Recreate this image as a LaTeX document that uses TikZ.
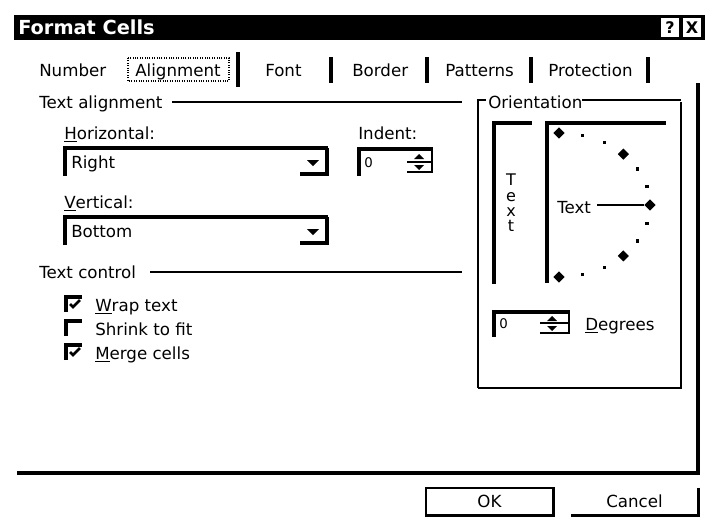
\documentclass[tikz,border=0pt]{standalone}
\usepackage{fontspec}
\setmainfont{DejaVu Sans}
\usetikzlibrary{positioning,shapes.geometric}

\begin{document}
\begin{tikzpicture}[x=0.75pt, y=-0.75pt,
    txt/.style={anchor=base west, inner sep=0pt, font=\fontsize{12.5}{15}\selectfont},
    btn/.style={inner sep=0pt, minimum width=95.25pt, minimum height=20.25pt, font=\fontsize{12.5}{15}\selectfont},
    hair/.style={line width=0.8pt},
    heavy/.style={line width=2.3pt},
    tabbar/.style={line width=3pt},
    bigdot/.style={diamond, fill=black, inner sep=0pt, minimum size=8.5pt},
    smalldot/.style={rectangle, fill=black, inner sep=0pt, minimum size=2.4pt}
]
\useasboundingbox (0,0) rectangle (705,522);

% Title bar
\fill (14,15) rectangle (705,40);
\node[txt, font=\fontsize{14.5}{17}\selectfont\bfseries, text=white] (title) at (18,34) {Format Cells};
\node[fill=white, inner sep=0pt, minimum width=13.5pt, minimum height=14pt, font=\fontsize{12}{14}\selectfont\bfseries] (help) at (670,27.5) {?};
\node[fill=white, inner sep=0pt, minimum width=13.5pt, minimum height=14pt, font=\fontsize{12}{14}\selectfont\bfseries] (close) at (692,27.5) {X};

% Tabs
\foreach \x/\t/\n in {39/Number/tnum, 135/Alignment/talign, 265/Font/tfont, 352/Border/tborder, 445/Patterns/tpat, 548/Protection/tprot}
  \node[txt] (\n) at (\x,76) {\t};
\draw[hair, densely dotted] (128,58) rectangle (229,81);
\draw[tabbar] (238,52) -- (238,87);
\foreach \x in {331,427,531,648}
  \draw[tabbar] (\x,57) -- (\x,83);

% Text alignment
\node[txt] (galign) at (39,108) {Text alignment};
\draw[hair] (172,102) -- (462,102);
\node[txt] (ghoriz) at (64,139) {\underline{H}orizontal:};
\node[txt] (gvert) at (64,208) {\underline{V}ertical:};
\foreach \y/\t/\n in {148/Right/cright, 217/Bottom/cbottom} {
  \draw[heavy] (65,{\y+28}) -- (65,\y) -- (328,\y);
  \draw[heavy] (300,{\y+26}) -- (327,{\y+26}) -- (327,\y);
  \fill (307,{\y+12}) -- (319,{\y+12}) -- (313,{\y+18}) -- cycle;
  \node[txt] (\n) at (71,{\y+20}) {\t};
}

% Indent
\node[txt] (gindent) at (358,139) {Indent:};
\draw[heavy] (359,176) -- (359,149) -- (433,149);
\node[txt, font=\fontsize{10}{12}\selectfont] (indentval) at (364,167) {0};
\draw[line width=1.6pt] (407,162) -- (432,162) (407,172) -- (432,172) (432,149) -- (432,173);
\fill (414,159) -- (424,159) -- (419,154) -- cycle;
\fill (414,165) -- (424,165) -- (419,170) -- cycle;

% Text control
\node[txt] (gcontrol) at (39,278) {Text control};
\draw[hair] (150,272) -- (462,272);
\foreach \y/\t/\n/\c in {297/{\underline{W}rap text}/cwrap/1, 321/{Shrink to fit}/cshrink/0, 345/{\underline{M}erge cells}/cmerge/1} {
  \draw[heavy] (66,{\y+15}) -- (66,\y) -- (82,\y);
  \node[txt] (\n) at (95,{\y+14}) {\t};
  \ifnum\c=1 \draw[line width=2pt] (70,{\y+7}) -- (73,{\y+10}) -- (80,{\y+3}); \fi
}

% Orientation
\node[txt] (gorient) at (488,108) {Orientation};
\draw[hair] (486,100) -- (478,100) -- (478,388);
\draw[hair] (582,100) -- (681,100);
\draw[line width=1.6pt] (478,388) -- (681,388) -- (681,102);
\draw[heavy] (494,284) -- (494,123) -- (532,123);
\foreach \c/\y/\n in {T/185/vt1, e/201/vt2, x/216/vt3, t/231/vt4}
  \node[anchor=base, inner sep=0pt, font=\fontsize{12}{14}\selectfont] (\n) at (511,\y) {\c};
\draw[heavy] (547,283) -- (547,123) -- (666,123);
\node[txt] (sample) at (557,213) {Text};
\foreach \a in {90,45,0,-45,-90}
  \node[bigdot] (big\a) at ({559+91*cos(\a)},{205-72*sin(\a)}) {};
\foreach \a in {75,60,30,15,-15,-30,-60,-75}
  \node[smalldot] (small\a) at ({559+91*cos(\a)},{205-72*sin(\a)}) {};
\path (sample.east) ++(6,0) coordinate (textend);
\draw[hair] (textend |- big0.west) -- (big0.west);

% Degrees
\draw[heavy] (494,337) -- (494,312) -- (570,312);
\node[txt, font=\fontsize{10}{12}\selectfont] (degval) at (499,328) {0};
\draw[line width=1.6pt] (540,323) -- (569,323) (540,333) -- (569,333) (569,312) -- (569,334);
\fill (547,321) -- (557,321) -- (552,316) -- cycle;
\fill (547,326) -- (557,326) -- (552,331) -- cycle;
\node[txt] (degrees) at (585,330) {\underline{D}egrees};

% Panel edge
\draw[line width=2.6pt] (698,83) -- (698,473) -- (17,473);

% Buttons
\node[btn, draw, hair] (ok) at (489.5,501.5) {OK};
\draw[heavy] (ok.north east) -- (ok.south east) -- (ok.south west);
\node[btn] (cancel) at (634.5,501.5) {Cancel};
\draw[heavy] (cancel.north east) -- (cancel.south east) -- (cancel.south west);

\end{tikzpicture}
\end{document}
